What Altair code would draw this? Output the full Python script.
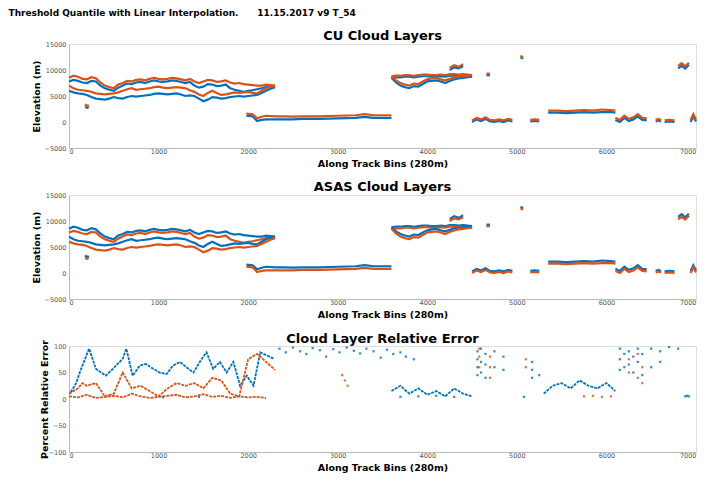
import altair as alt
import pandas as pd

ORANGE = "#D95319"
BLUE = "#0072BD"
FONT = "DejaVu Sans"

# ---------------- CU cloud layers (elevation, m) ----------------
segA_x = [0, 50, 100, 150, 200, 250, 300, 350, 400, 450, 500, 550, 600, 650, 700, 750, 800, 850, 900, 950, 1000, 1050, 1100, 1150, 1200, 1250, 1300, 1350, 1400, 1450, 1500, 1550, 1600, 1650, 1700, 1750, 1800, 1850, 1900, 1950, 2000, 2050, 2100, 2150, 2200, 2250, 2300]
segA_top_cu = [8500, 8900, 8700, 8300, 8200, 8600, 8400, 7600, 7000, 6700, 6500, 7200, 7500, 7900, 7800, 8100, 8200, 8000, 8300, 8500, 8300, 8200, 8300, 8500, 8400, 8200, 8000, 8300, 7800, 7500, 7800, 8100, 8000, 7700, 7800, 8000, 7600, 7400, 7500, 7300, 7200, 7100, 7000, 7000, 7200, 7100, 7000]
segA_top_as = [7800, 8100, 7900, 7600, 7500, 7900, 7800, 7000, 6500, 6200, 6000, 6600, 7000, 7400, 7300, 7600, 7700, 7500, 7800, 8000, 7800, 7700, 7800, 8000, 7900, 7700, 7500, 7700, 7000, 6600, 6800, 7300, 7200, 6900, 7000, 7200, 6500, 6200, 6000, 5800, 6000, 6100, 6300, 6500, 6700, 6800, 6700]
segA_bot_cu = [7000, 6500, 6200, 6100, 6000, 5800, 5500, 5400, 5300, 5400, 5500, 5700, 6000, 6300, 6500, 6200, 6300, 6400, 6500, 6700, 6800, 6600, 6500, 6600, 6700, 6600, 6500, 6100, 5800, 5300, 5000, 5600, 6000, 5600, 5200, 5300, 5500, 5700, 5600, 5700, 5800, 5600, 5500, 6000, 6500, 6800, 7000]
segA_bot_as = [6000, 5700, 5500, 5400, 5200, 4800, 4500, 4400, 4300, 4500, 4800, 4600, 4500, 4800, 5000, 4900, 5000, 5100, 5200, 5400, 5500, 5400, 5300, 5400, 5500, 5300, 5000, 5100, 5000, 4500, 4000, 4300, 4800, 4700, 4500, 4600, 4800, 4900, 5000, 4900, 5000, 5100, 5200, 5600, 6000, 6400, 6700]
segB_x = [1980, 2050, 2100, 2150, 2200, 2300, 2400, 2500, 2600, 2700, 2800, 2900, 3000, 3100, 3200, 3300, 3400, 3500, 3600]
segB_cu = [1600, 1500, 700, 1000, 1200, 1100, 1100, 1050, 1100, 1100, 1100, 1150, 1200, 1250, 1300, 1500, 1300, 1300, 1300]
segB_as = [1200, 1100, 200, 400, 500, 500, 500, 500, 600, 600, 600, 650, 700, 750, 800, 1000, 800, 800, 800]
segC_x = [3600, 3650, 3700, 3750, 3800, 3850, 3900, 3950, 4000, 4050, 4100, 4150, 4200, 4250, 4300, 4350, 4400, 4450, 4500]
segC_top_cu = [8800, 8900, 8900, 9000, 9000, 8900, 9000, 9100, 9100, 9000, 9000, 9100, 9000, 9200, 9200, 9100, 9200, 9100, 9000]
segC_top_as = [8500, 8600, 8600, 8700, 8700, 8600, 8700, 8800, 8800, 8700, 8700, 8800, 8700, 8900, 8900, 8800, 8800, 8800, 8700]
segC_bot_cu = [8800, 8000, 7500, 7200, 7000, 7400, 7300, 7800, 8200, 8400, 8500, 8200, 8000, 8300, 8600, 8700, 8800, 8900, 9000]
segC_bot_as = [8500, 7600, 7000, 6700, 6500, 6900, 6800, 7300, 7800, 7900, 8000, 7800, 7500, 7900, 8200, 8400, 8500, 8600, 8700]
segE_x = [4500, 4550, 4600, 4650, 4700, 4750, 4800, 4850, 4900, 4950]
segE_cu = [300, 800, 500, 900, 400, 300, 500, 300, 600, 400]
segE_as = [0, 500, 200, 600, 100, 0, 200, 0, 300, 100]
segF_x = [5150, 5200, 5250]
segF_cu = [400, 500, 400]
segF_as = [100, 200, 100]
segG_x = [5350, 5450, 5550, 5650, 5750, 5850, 5950, 6050, 6100]
segG_cu = [2200, 2200, 2100, 2200, 2300, 2200, 2400, 2300, 2200]
segG_as = [1800, 1800, 1700, 1800, 1900, 1800, 1900, 1900, 1800]
segH_x = [6100, 6150, 6200, 6250, 6300, 6350, 6400, 6450]
segH_cu = [800, 400, 1200, 600, 900, 1500, 800, 700]
segH_as = [400, 0, 800, 200, 500, 1100, 400, 300]
segI_x = [6550, 6580, 6610]
segI_cu = [400, 600, 400]
segI_as = [100, 300, 100]
segJ_x = [6650, 6700, 6760]
segJ_cu = [300, 400, 300]
segJ_as = [0, 100, 0]
segK_x = [6940, 6970, 7000]
segK_cu = [400, 1500, 500]
segK_as = [0, 1100, 100]
blob1_x = [180, 200, 220]
blob1_cu = [3400, 3000, 3300]
blob1_as = [3000, 2700, 2900]
blob2_x = [4250, 4300, 4350, 4400]
blob2_cu = [10400, 10900, 10600, 11100]
blob2_as = [10000, 10500, 10300, 10700]
blob3_x = [4660, 4700]
blob3_cu = [9300, 9300]
blob3_as = [9000, 9000]
blob4_x = [5040, 5070]
blob4_cu = [12700, 12500]
blob4_as = [12400, 12200]
blob5_x = [6800, 6840, 6880, 6920]
blob5_cu = [10800, 11300, 10700, 11400]
blob5_as = [10300, 10800, 10300, 11000]

segments = [
    ("A1", segA_x, segA_top_cu, segA_top_as),
    ("A2", segA_x, segA_bot_cu, segA_bot_as),
    ("B", segB_x, segB_cu, segB_as),
    ("C1", segC_x, segC_top_cu, segC_top_as),
    ("C2", segC_x, segC_bot_cu, segC_bot_as),
    ("E", segE_x, segE_cu, segE_as),
    ("F", segF_x, segF_cu, segF_as),
    ("G", segG_x, segG_cu, segG_as),
    ("H", segH_x, segH_cu, segH_as),
    ("I", segI_x, segI_cu, segI_as),
    ("J", segJ_x, segJ_cu, segJ_as),
    ("K", segK_x, segK_cu, segK_as),
    ("b1", blob1_x, blob1_cu, blob1_as),
    ("b2", blob2_x, blob2_cu, blob2_as),
    ("b3", blob3_x, blob3_cu, blob3_as),
    ("b4", blob4_x, blob4_cu, blob4_as),
    ("b5", blob5_x, blob5_cu, blob5_as),
]

# ---------------- relative error (%) ----------------
err_blue_x = [20, 80, 130, 150, 225, 300, 410, 490, 600, 640, 710, 790, 860, 940, 1010, 1090, 1160, 1240, 1310, 1390, 1460, 1535, 1610, 1685, 1760, 1835, 1910, 1985, 2060, 2135, 2210, 2285]
err_blue_y = [13, 30, 55, 63, 95, 57, 44, 57, 76, 95, 44, 63, 66, 57, 50, 47, 63, 70, 60, 50, 70, 88, 57, 70, 50, 70, 25, 44, 25, 88, 82, 76]
err_or_x = [0, 100, 150, 200, 300, 400, 500, 550, 600, 650, 700, 800, 900, 1000, 1100, 1200, 1300, 1400, 1500, 1600, 1700, 1800, 1900, 2000, 2100, 2200, 2300]
err_or_y = [10, 20, 30, 25, 30, 5, 10, 30, 50, 35, 20, 25, 15, 5, 20, 30, 25, 30, 20, 40, 35, 10, 5, 75, 85, 70, 55]
err_low_x = [0, 100, 200, 300, 400, 500, 600, 700, 800, 900, 1000, 1100, 1200, 1300, 1400, 1500, 1600, 1700, 1800, 1900, 2000, 2100, 2200]
err_low_y = [5, 3, 8, 2, 4, 6, 3, 10, 5, 2, 4, 6, 8, 3, 5, 9, 4, 6, 2, 5, 3, 4, 2]
err_blue2_x = [3600, 3700, 3800, 3900, 4000, 4100, 4200, 4300, 4400, 4500]
err_blue2_y = [15, 25, 10, 20, 8, 15, 5, 20, 10, 5]
err_blue3_x = [5300, 5400, 5500, 5600, 5700, 5800, 5900, 6000, 6100]
err_blue3_y = [10, 25, 30, 20, 35, 25, 20, 30, 15]
sc_blue_x = [2350, 2420, 2500, 2580, 2650, 2720, 2800, 2870, 2950, 3020, 3100, 3180, 3250, 3320, 3400, 3480, 3550, 3620, 3700, 3760, 3850,
             4560, 4560, 4560, 4560, 4600, 4600, 4600, 4650, 4650, 4650, 4750, 4750, 4850, 4850, 5170, 5170, 5170, 5250,
             6150, 6150, 6150, 6200, 6200, 6250, 6250, 6300, 6300, 6350, 6350, 6400, 6400, 6500, 6500, 6600, 6600, 6700, 6800]
sc_blue_y = [95, 88, 97, 90, 85, 96, 92, 80, 94, 88, 97, 91, 86, 95, 90, 78, 93, 85, 88, 80, 75,
             90, 75, 60, 45, 95, 70, 50, 85, 65, 40, 90, 60, 80, 55, 70, 55, 40, 45,
             95, 75, 55, 85, 60, 90, 65, 80, 50, 95, 70, 85, 45, 95, 60, 90, 70, 98, 95]
sc_or_x = [3050, 3080, 3110, 4580, 4580, 4580, 4700, 4700, 4700, 5100, 5100, 5750, 5850, 5950, 6050, 6250, 6250, 6350, 6350, 6400, 6400]
sc_or_y = [45, 35, 25, 95, 80, 60, 80, 60, 40, 75, 60, 5, 6, 4, 5, 75, 50, 85, 40, 60, 30]
sc_dark_x = [6880, 6900, 6920, 5080, 3700, 3900, 4100, 4300, 1050, 1450]
sc_dark_y = [5, 6, 5, 4, 4, 5, 6, 4, 3, 4]

x_ticks = [0, 1000, 2000, 3000, 4000, 5000, 6000, 7000]


def elevation_df(swap):
    rows = []
    for name, xs, cu, asas in segments:
        upper, lower = (cu, asas) if not swap else (asas, cu)
        for x, y in zip(xs, lower):
            rows.append({"x": x, "y": y, "s": "blue", "seg": name + "b"})
        for x, y in zip(xs, upper):
            rows.append({"x": x, "y": y, "s": "orange", "seg": name + "o"})
    return pd.DataFrame(rows)


def axis_x():
    return alt.Axis(values=x_ticks, title="Along Track Bins (280m)", grid=False, format="d",
                    labelFontSize=6.5, labelColor="#555", labelPadding=0,
                    titleFont=FONT, titleFontSize=9.5, titleFontWeight="bold",
                    titlePadding=4, domainColor="#bbb", ticks=False, labelFont=FONT)


def axis_y(title, vals, tpad):
    return alt.Axis(values=vals, title=title, grid=False, format="d",
                    labelFontSize=6.5, labelColor="#555", labelPadding=3,
                    titleFont=FONT, titleFontSize=9.5, titleFontWeight="bold",
                    titlePadding=tpad, domainColor="#bbb", ticks=False, labelFont=FONT)


color_scale = alt.Scale(domain=["blue", "orange"], range=[BLUE, ORANGE])
W, H = 627, 104


def elev_panel(title, swap):
    df = elevation_df(swap)
    return alt.Chart(df, title=alt.TitleParams(title, fontSize=13, font=FONT, fontWeight="bold", offset=-2)).mark_line(
        strokeWidth=2.2).encode(
        x=alt.X("x:Q", scale=alt.Scale(domain=[0, 7000], nice=False), axis=axis_x()),
        y=alt.Y("y:Q", scale=alt.Scale(domain=[-5000, 15000], nice=False),
                axis=axis_y("Elevation (m)", [-5000, 0, 5000, 10000, 15000], 3)),
        color=alt.Color("s:N", scale=color_scale, legend=None),
        detail="seg:N",
        order="x:Q",
    ).properties(width=W, height=H)


def line_df(xs, ys, s, seg):
    return pd.DataFrame({"x": xs, "y": ys, "s": s, "seg": seg})


err_lines = pd.concat([
    line_df(err_blue_x, err_blue_y, "blue", "e1"),
    line_df(err_or_x, err_or_y, "orange", "e2"),
    line_df(err_low_x, err_low_y, "orange", "e3"),
    line_df(err_blue2_x, err_blue2_y, "blue", "e4"),
    line_df(err_blue3_x, err_blue3_y, "blue", "e5"),
])
err_pts = pd.concat([
    line_df(sc_blue_x, sc_blue_y, "blue", "p1"),
    line_df(sc_or_x, sc_or_y, "orange", "p2"),
    line_df(sc_dark_x, sc_dark_y, "dark", "p3"),
])

xenc = alt.X("x:Q", scale=alt.Scale(domain=[0, 7000], nice=False), axis=axis_x())
yenc = alt.Y("y:Q", scale=alt.Scale(domain=[-100, 100], nice=False),
             axis=axis_y("Percent Relative Error", [-100, -50, 0, 50, 100], -1))
pt_scale = alt.Scale(domain=["blue", "orange", "dark"], range=[BLUE, ORANGE, "#444"])

err_line_layer = alt.Chart(err_lines).mark_line(strokeWidth=1.8, strokeDash=[3, 1]).encode(
    x=xenc, y=yenc, color=alt.Color("s:N", scale=pt_scale, legend=None), detail="seg:N", order="x:Q")
err_pt_layer = alt.Chart(err_pts).mark_point(filled=True, size=5, shape="square", opacity=0.8).encode(
    x=xenc, y=yenc, color=alt.Color("s:N", scale=pt_scale, legend=None))

err_panel = alt.layer(err_line_layer, err_pt_layer).properties(
    width=W, height=H + 2,
    title=alt.TitleParams("Cloud Layer Relative Error", fontSize=13, font=FONT, fontWeight="bold", offset=-7))

chart = alt.vconcat(
    elev_panel("CU Cloud Layers", False),
    elev_panel("ASAS Cloud Layers", True),
    err_panel,
    spacing=47,
    bounds="flush",
).properties(
    title=alt.TitleParams("Threshold Quantile with Linear Interpolation.\u00a0\u00a0\u00a0\u00a0\u00a0\u00a011.15.2017 v9 T_54",
                          anchor="start", fontSize=9, font=FONT, fontWeight="bold", offset=12, dx=-22),
    padding={"left": 0, "top": 0, "right": 0, "bottom": 0},
).configure_view(stroke="#c8c8c8", strokeWidth=1).configure(background="white")

chart.save("out.html", embed_options={"renderer": "svg", "actions": False})
